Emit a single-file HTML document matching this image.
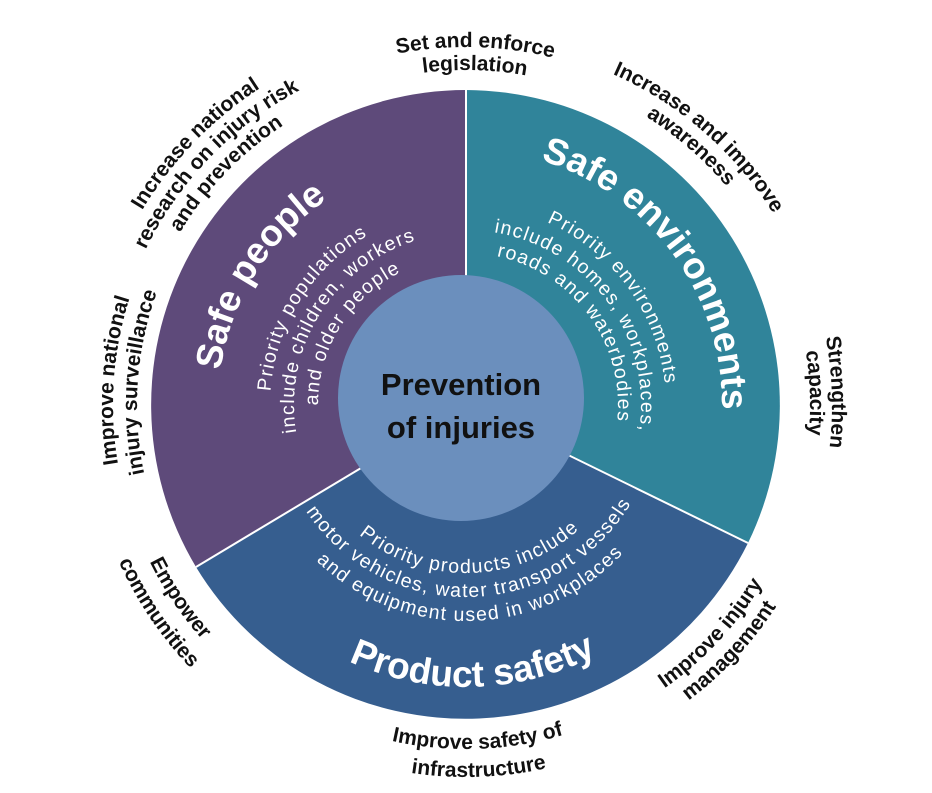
<!DOCTYPE html>
<html><head><meta charset="utf-8"><style>
html,body{margin:0;padding:0;background:#fff;}
svg{display:block;}
.o{font-family:"Liberation Sans",sans-serif;font-weight:bold;font-size:21px;fill:#111;}
.t{font-family:"Liberation Sans",sans-serif;font-weight:bold;font-size:37px;fill:#fff;}
.s{font-family:"Liberation Sans",sans-serif;font-size:19.5px;fill:#fff;letter-spacing:1.3px;}
</style></head><body>
<svg width="932" height="793" viewBox="0 0 932 793" xmlns="http://www.w3.org/2000/svg">
<defs>
<path id="c148" d="M-148,0 A148,148 0 0 1 148,0"/>
<path id="c152" d="M-152,0 A152,152 0 0 1 152,0"/>
<path id="c163" d="M-163,0 A163,163 0 0 1 163,0"/>
<path id="c172" d="M-172,0 A172,172 0 0 1 172,0"/>
<path id="c175" d="M-175,0 A175,175 0 0 1 175,0"/>
<path id="c186" d="M-186,0 A186,186 0 0 1 186,0"/>
<path id="c196" d="M-196,0 A196,196 0 0 1 196,0"/>
<path id="c200" d="M-200,0 A200,200 0 0 1 200,0"/>
<path id="c248" d="M-248,0 A248,248 0 0 1 248,0"/>
<path id="c256" d="M-256,0 A256,256 0 0 1 256,0"/>
<path id="c329" d="M-329,0 A329,329 0 0 1 329,0"/>
<path id="c334" d="M-334,0 A334,334 0 0 1 334,0"/>
<path id="c335" d="M-335,0 A335,335 0 0 1 335,0"/>
<path id="c340" d="M-340,0 A340,340 0 0 1 340,0"/>
<path id="c344" d="M-344,0 A344,344 0 0 1 344,0"/>
<path id="c353" d="M-353,0 A353,353 0 0 1 353,0"/>
<path id="c356" d="M-356,0 A356,356 0 0 1 356,0"/>
<path id="c358" d="M-358,0 A358,358 0 0 1 358,0"/>
<path id="c362" d="M-362,0 A362,362 0 0 1 362,0"/>
<path id="c366" d="M-366,0 A366,366 0 0 1 366,0"/>
<path id="c378" d="M-378,0 A378,378 0 0 1 378,0"/>
<path id="d168" d="M-168,0 A168,168 0 0 0 168,0"/>
<path id="d192" d="M-192,0 A192,192 0 0 0 192,0"/>
<path id="d216" d="M-216,0 A216,216 0 0 0 216,0"/>
<path id="d282" d="M-282,0 A282,282 0 0 0 282,0"/>
<path id="d344" d="M-344,0 A344,344 0 0 0 344,0"/>
<path id="d346" d="M-346,0 A346,346 0 0 0 346,0"/>
<path id="d353" d="M-353,0 A353,353 0 0 0 353,0"/>
<path id="d370" d="M-370,0 A370,370 0 0 0 370,0"/>
<path id="d372" d="M-372,0 A372,372 0 0 0 372,0"/>
<path id="d381" d="M-381,0 A381,381 0 0 0 381,0"/>
</defs>
<path d="M466,405 L466,90 A315,315 0 0 0 196,567 Z" fill="#5e4a7a"/>
<path d="M466,405 L466,90 A315,315 0 0 1 748,543 Z" fill="#30849a"/>
<path d="M466,405 L748,543 A315,315 0 0 1 196,567 Z" fill="#365e8f"/>
<line x1="466" y1="405" x2="466" y2="90" stroke="#fff" stroke-width="2"/>
<line x1="466" y1="405" x2="748" y2="543" stroke="#fff" stroke-width="2"/>
<line x1="466" y1="405" x2="196" y2="567" stroke="#fff" stroke-width="2"/>
<circle cx="461" cy="398" r="123" fill="#6b8fbd"/>
<text x="461" y="395" text-anchor="middle" style="font-family:'Liberation Sans',sans-serif;font-weight:bold;font-size:31px;fill:#111">Prevention</text>
<text x="461" y="438" text-anchor="middle" style="font-family:'Liberation Sans',sans-serif;font-weight:bold;font-size:31px;fill:#111">of injuries</text>

<g transform="translate(466,405) rotate(-58)">
<text class="t" text-anchor="middle"><textPath href="#c248" startOffset="50%">Safe people</textPath></text>
<text class="s" text-anchor="middle"><textPath href="#c196" startOffset="50%">Priority populations</textPath></text>
<text class="s" text-anchor="middle"><textPath href="#c172" startOffset="50%">include children, workers</textPath></text>
<text class="s" text-anchor="middle"><textPath href="#c148" startOffset="50%">and older people</textPath></text>
</g>
<g transform="translate(466,405) rotate(54)">
<text class="t" text-anchor="middle"><textPath href="#c256" startOffset="50%">Safe environments</textPath></text>
<text class="s" text-anchor="middle"><textPath href="#c200" startOffset="50%">Priority environments</textPath></text>
<text class="s" text-anchor="middle"><textPath href="#c175" startOffset="50%">include homes, workplaces,</textPath></text>
<text class="s" text-anchor="middle"><textPath href="#c152" startOffset="50%">roads and waterbodies</textPath></text>
</g>
<g transform="translate(466,405) rotate(-1.5)">
<text class="t" text-anchor="middle"><textPath href="#d282" startOffset="50%">Product safety</textPath></text>
<text class="s" text-anchor="middle"><textPath href="#d168" startOffset="50%">Priority products include</textPath></text>
<text class="s" text-anchor="middle"><textPath href="#d192" startOffset="50%">motor vehicles, water transport vessels</textPath></text>
<text class="s" text-anchor="middle"><textPath href="#d216" startOffset="50%">and equipment used in workplaces</textPath></text>
</g>

<g transform="translate(466,405) rotate(1.5)">
<text class="o" text-anchor="middle"><textPath href="#c358" startOffset="50%">Set and enforce</textPath></text>
<text class="o" text-anchor="middle"><textPath href="#c335" startOffset="50%">legislation</textPath></text>
</g>
<g transform="translate(466,405) rotate(-46)">
<text class="o" text-anchor="middle"><textPath href="#c378" startOffset="50%">Increase national</textPath></text>
<text class="o" text-anchor="middle"><textPath href="#c356" startOffset="50%">research on injury risk</textPath></text>
<text class="o" text-anchor="middle"><textPath href="#c334" startOffset="50%">and prevention</textPath></text>
</g>
<g transform="translate(466,405) rotate(41)">
<text class="o" text-anchor="middle"><textPath href="#c362" startOffset="50%">Increase and improve</textPath></text>
<text class="o" text-anchor="middle"><textPath href="#c340" startOffset="50%">awareness</textPath></text>
</g>
<g transform="translate(466,405) rotate(88)">
<text class="o" text-anchor="middle"><textPath href="#c366" startOffset="50%">Strengthen</textPath></text>
<text class="o" text-anchor="middle"><textPath href="#c344" startOffset="50%">capacity</textPath></text>
</g>
<g transform="translate(466,405) rotate(-86)">
<text class="o" text-anchor="middle"><textPath href="#c353" startOffset="50%">Improve national</textPath></text>
<text class="o" text-anchor="middle"><textPath href="#c329" startOffset="50%">injury surveillance</textPath></text>
</g>
<g transform="translate(466,405) rotate(-47)">
<text class="o" text-anchor="middle"><textPath href="#d346" startOffset="50%">Improve injury</textPath></text>
<text class="o" text-anchor="middle"><textPath href="#d370" startOffset="50%">management</textPath></text>
</g>
<g transform="translate(466,405) rotate(-2)">
<text class="o" text-anchor="middle"><textPath href="#d344" startOffset="50%">Improve safety of</textPath></text>
<text class="o" text-anchor="middle"><textPath href="#d372" startOffset="50%">infrastructure</textPath></text>
</g>
<g transform="translate(466,405) rotate(56)">
<text class="o" text-anchor="middle"><textPath href="#d353" startOffset="50%">Empower</textPath></text>
<text class="o" text-anchor="middle"><textPath href="#d381" startOffset="50%">communities</textPath></text>
</g>
</svg>
</body></html>
